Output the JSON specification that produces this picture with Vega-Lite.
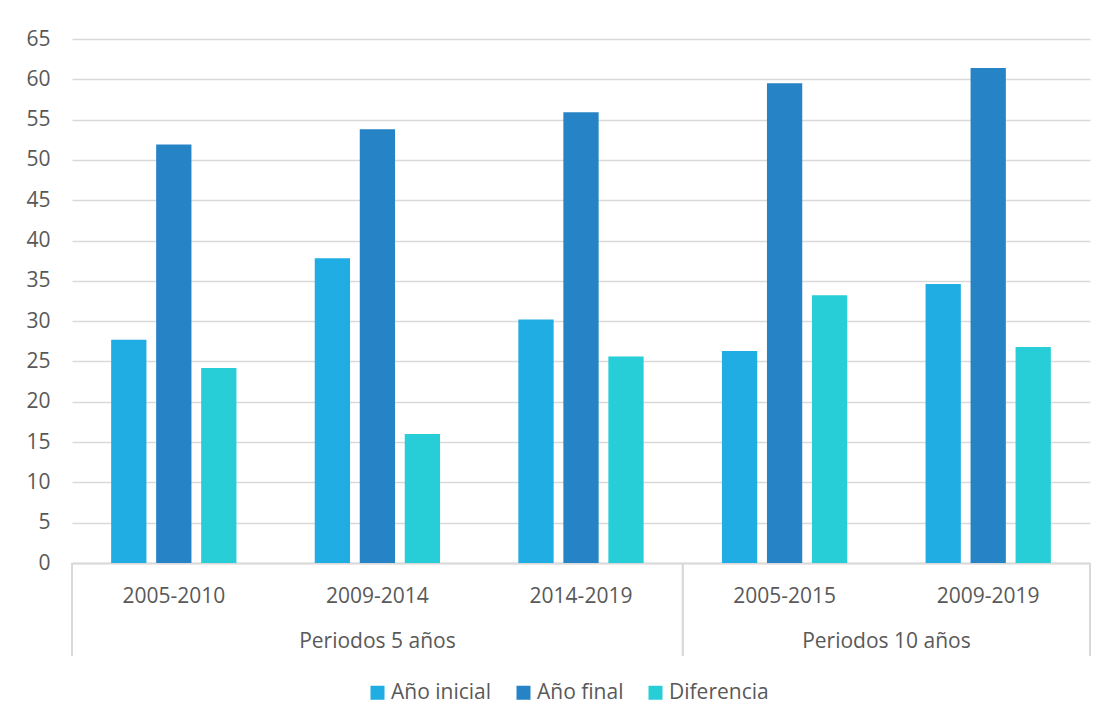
{
  "$schema": "https://vega.github.io/schema/vega-lite/v6.json",
  "width": 1018,
  "height": 524,
  "autosize": {"type": "none"},
  "padding": {"left": 72, "top": 39, "right": 15, "bottom": 162},
  "background": "white",
  "config": {
    "font": "Open Sans",
    "view": {"stroke": null}
  },
  "datasets": {
    "valores": [
      {"periodo": "2005-2010", "serie": "Año inicial", "valor": 27.7},
      {"periodo": "2005-2010", "serie": "Año final", "valor": 51.9},
      {"periodo": "2005-2010", "serie": "Diferencia", "valor": 24.2},
      {"periodo": "2009-2014", "serie": "Año inicial", "valor": 37.8},
      {"periodo": "2009-2014", "serie": "Año final", "valor": 53.8},
      {"periodo": "2009-2014", "serie": "Diferencia", "valor": 16.0},
      {"periodo": "2014-2019", "serie": "Año inicial", "valor": 30.2},
      {"periodo": "2014-2019", "serie": "Año final", "valor": 55.9},
      {"periodo": "2014-2019", "serie": "Diferencia", "valor": 25.6},
      {"periodo": "2005-2015", "serie": "Año inicial", "valor": 26.3},
      {"periodo": "2005-2015", "serie": "Año final", "valor": 59.5},
      {"periodo": "2005-2015", "serie": "Diferencia", "valor": 33.2},
      {"periodo": "2009-2019", "serie": "Año inicial", "valor": 34.6},
      {"periodo": "2009-2019", "serie": "Año final", "valor": 61.4},
      {"periodo": "2009-2019", "serie": "Diferencia", "valor": 26.8}
    ],
    "grupos": [
      {"grupo": "Periodos 5 años", "desde": "2005-2010", "centro": "2009-2014", "hasta": "2014-2019"},
      {"grupo": "Periodos 10 años", "desde": "2005-2015", "centro": "2005-2015", "hasta": "2009-2019"}
    ]
  },
  "layer": [
    {
      "data": {"name": "valores"},
      "mark": {"type": "bar"},
      "encoding": {
        "x": {
          "field": "periodo",
          "type": "nominal",
          "scale": {
            "domain": ["2005-2010", "2009-2014", "2014-2019", "2005-2015", "2009-2019"],
            "paddingInner": 0,
            "paddingOuter": 0
          },
          "axis": {
            "title": null,
            "ticks": false,
            "grid": false,
            "labelAngle": 0,
            "labelPadding": 39,
            "labelBaseline": "alphabetic",
            "labelFontSize": 21,
            "labelColor": "#595959",
            "domainColor": "#d9d9d9",
            "domainWidth": 2
          }
        },
        "xOffset": {
          "field": "serie",
          "type": "nominal",
          "scale": {
            "domain": ["Año inicial", "Año final", "Diferencia"],
            "paddingInner": 0.216,
            "paddingOuter": 0.87
          }
        },
        "y": {
          "field": "valor",
          "type": "quantitative",
          "scale": {"domain": [0, 65], "nice": false},
          "axis": {
            "title": null,
            "values": [0, 5, 10, 15, 20, 25, 30, 35, 40, 45, 50, 55, 60, 65],
            "ticks": false,
            "domain": false,
            "grid": true,
            "gridColor": "#d9d9d9",
            "gridWidth": 1.5,
            "labelPadding": 22,
            "labelFontSize": 21,
            "labelColor": "#595959"
          }
        },
        "color": {
          "field": "serie",
          "type": "nominal",
          "scale": {
            "domain": ["Año inicial", "Año final", "Diferencia"],
            "range": ["#1FADE4", "#2683C6", "#27CED7"]
          },
          "legend": {
            "title": null,
            "orient": "none",
            "legendX": 295,
            "legendY": 643,
            "direction": "horizontal",
            "symbolType": "square",
            "symbolSize": 196,
            "symbolStrokeWidth": 0,
            "symbolOpacity": 1,
            "labelFontSize": 21,
            "labelColor": "#595959",
            "labelOffset": 3,
            "columnPadding": 21,
            "padding": 0
          }
        }
      }
    },
    {
      "data": {"name": "grupos"},
      "mark": {"type": "rule", "color": "#d9d9d9", "strokeWidth": 2},
      "encoding": {
        "x": {"field": "desde", "type": "nominal", "bandPosition": 0, "title": null},
        "y": {"datum": 0, "title": null},
        "y2": {"datum": -11.54}
      }
    },
    {
      "data": {"name": "grupos"},
      "mark": {"type": "rule", "color": "#d9d9d9", "strokeWidth": 2},
      "encoding": {
        "x": {"field": "hasta", "type": "nominal", "bandPosition": 1, "title": null},
        "y": {"datum": 0, "title": null},
        "y2": {"datum": -11.54}
      }
    },
    {
      "data": {"name": "grupos"},
      "transform": [{"filter": "datum.grupo === 'Periodos 5 años'"}],
      "mark": {"type": "text", "fontSize": 21, "color": "#595959", "baseline": "alphabetic", "align": "center"},
      "encoding": {
        "x": {"field": "centro", "type": "nominal", "bandPosition": 0.5, "title": null},
        "y": {"datum": -10.6, "title": null},
        "text": {"field": "grupo"}
      }
    },
    {
      "data": {"name": "grupos"},
      "transform": [{"filter": "datum.grupo === 'Periodos 10 años'"}],
      "mark": {"type": "text", "fontSize": 21, "color": "#595959", "baseline": "alphabetic", "align": "center"},
      "encoding": {
        "x": {"field": "centro", "type": "nominal", "bandPosition": 1, "title": null},
        "y": {"datum": -10.6, "title": null},
        "text": {"field": "grupo"}
      }
    }
  ]
}
